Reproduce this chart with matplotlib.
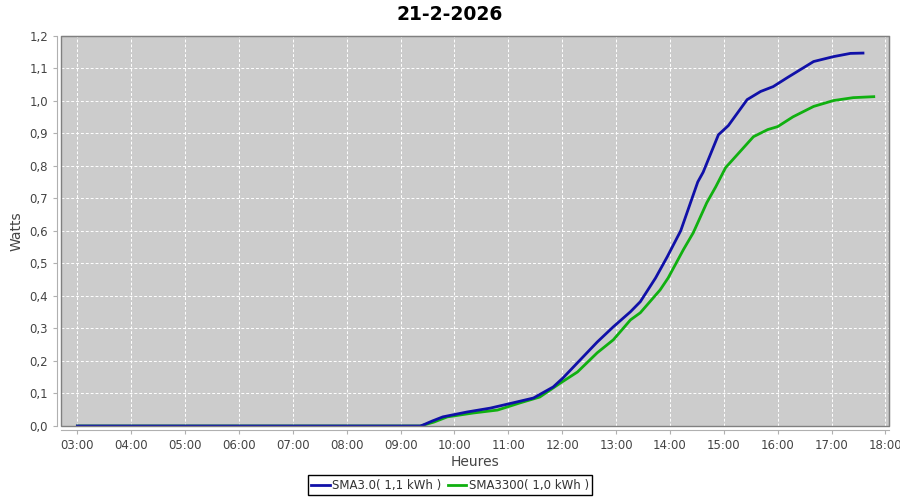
import matplotlib
matplotlib.use("Agg")
import matplotlib.pyplot as plt
from matplotlib.ticker import FuncFormatter, MultipleLocator
import numpy as np

title = "21-2-2026"
series_names = ["SMA3.0( 1,1 kWh )", "SMA3300( 1,0 kWh )"]
colors = ["#1010a8", "#10b010"]

blue_times = ["03:00", "09:22", "09:25", "09:35", "09:47", "10:14", "10:40", "11:05",
              "11:28", "11:50", "12:01", "12:20", "12:39", "12:57", "13:16", "13:27",
              "13:44", "13:57", "14:12", "14:23", "14:31", "14:37", "14:54", "15:05",
              "15:26", "15:41", "15:55", "16:11", "16:40", "17:02", "17:21", "17:35"]
blue_watts = [0.0, 0.0, 0.003, 0.015, 0.028, 0.043, 0.055, 0.071,
              0.086, 0.120, 0.148, 0.203, 0.258, 0.305, 0.351, 0.382,
              0.455, 0.520, 0.600, 0.687, 0.750, 0.780, 0.895, 0.923,
              1.003, 1.028, 1.043, 1.071, 1.120, 1.135, 1.145, 1.146]

green_times = ["03:00", "09:22", "09:37", "09:52", "10:21", "10:48", "11:13", "11:35",
               "11:58", "12:17", "12:39", "12:57", "13:16", "13:27", "13:49", "13:58",
               "14:15", "14:26", "14:41", "14:51", "15:02", "15:18", "15:33", "15:49",
               "16:00", "16:17", "16:40", "17:02", "17:24", "17:47"]
green_watts = [0.0, 0.0, 0.012, 0.028, 0.040, 0.049, 0.071, 0.089,
               0.132, 0.166, 0.225, 0.265, 0.326, 0.348, 0.418, 0.455,
               0.542, 0.594, 0.686, 0.735, 0.794, 0.843, 0.889, 0.911,
               0.920, 0.950, 0.982, 1.000, 1.009, 1.012]


def to_hours(times):
    return np.array([int(t[:2]) + int(t[3:]) / 60 for t in times])


fig = plt.figure(figsize=(9, 5), dpi=100)
ax = fig.add_axes([0.068, 0.148, 0.920, 0.781])
ax.set_facecolor("#cccccc")

ax.plot(to_hours(blue_times), blue_watts, color=colors[0], lw=2, label=series_names[0], zorder=4)
ax.plot(to_hours(green_times), green_watts, color=colors[1], lw=2, label=series_names[1], zorder=3)

ax.set_xlim(2.70, 18.07)
ax.set_ylim(0, 1.2)
ax.xaxis.set_major_locator(MultipleLocator(1))
ax.yaxis.set_major_locator(MultipleLocator(0.1))
ax.xaxis.set_major_formatter(FuncFormatter(lambda v, p: f"{int(round(v)):02d}:00"))
ax.yaxis.set_major_formatter(FuncFormatter(lambda v, p: f"{v:.1f}".replace(".", ",")))

ax.grid(True, color="white", linestyle=(0, (3, 2)), lw=0.7)
ax.set_axisbelow(True)

for side in ["top", "right"]:
    ax.spines[side].set_color("#808080")
for side in ["left", "bottom"]:
    ax.spines[side].set_position(("outward", 3))
    ax.spines[side].set_color("#b0b0b0")
# frame around plot area
ax.add_patch(plt.Rectangle((0, 0), 1, 1, transform=ax.transAxes, fill=False,
                           edgecolor="#808080", lw=1, clip_on=False, zorder=5))

ax.tick_params(axis="both", colors="#b0b0b0", labelcolor="#444444", labelsize=8.5, length=3)

ax.set_xlabel("Heures", fontsize=10, color="#444444", labelpad=2)
ax.set_ylabel("Watts", fontsize=10, color="#444444", labelpad=4)
fig.suptitle(title, fontsize=13.5, fontweight="bold", y=0.99)

leg = fig.legend(loc="lower center", bbox_to_anchor=(0.5, 0.0), ncol=2, fontsize=8.5,
                 fancybox=False, edgecolor="black", framealpha=1, handlelength=1.6,
                 handletextpad=0.2, columnspacing=0.5, borderpad=0.3, borderaxespad=0.4)
for t in leg.get_texts():
    t.set_color("#333333")

fig.savefig("out.png", dpi=100)
